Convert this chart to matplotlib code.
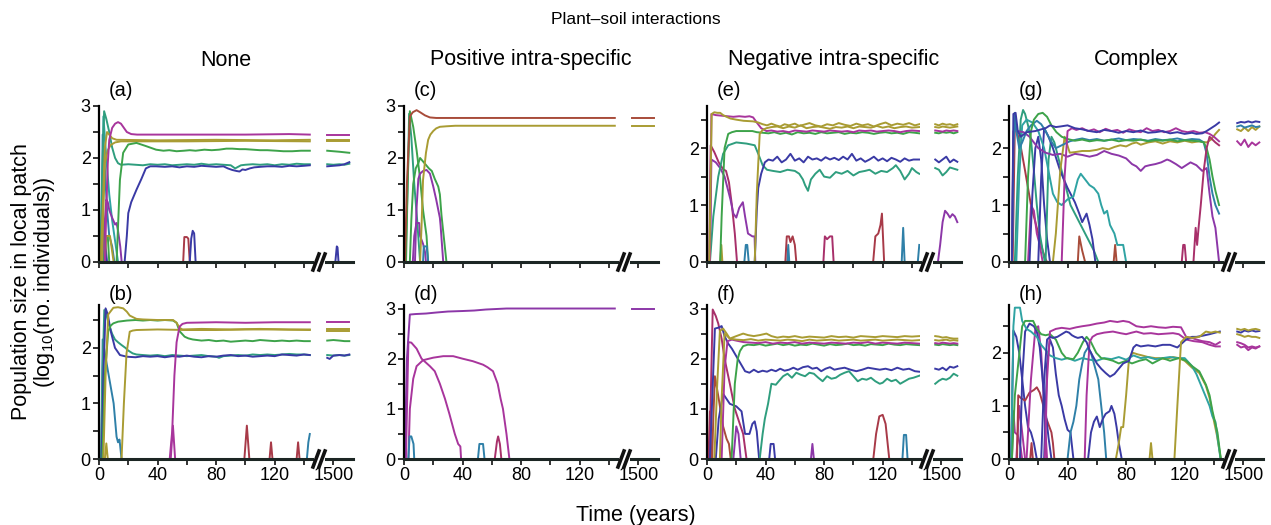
import matplotlib.pyplot as plt
from matplotlib.lines import Line2D
from matplotlib.ticker import MultipleLocator

plt.rcParams['font.family'] = ['Liberation Sans', 'DejaVu Sans']
plt.rcParams['mathtext.fontset'] = 'custom'
plt.rcParams['mathtext.rm'] = 'Liberation Sans'
plt.rcParams['mathtext.it'] = 'Liberation Sans:italic'

# colours
MAG = '#a8359c'
PUR = '#8c37a8'
CRM = '#a8306a'
RED = '#a83a48'
BRN = '#a84c3a'
OLI = '#a99c33'
GRN = '#3da34a'
TGR = '#2f9e7e'
TEA = '#2fa3a3'
STB = '#2f80a8'
NAV = '#3a3aa5'

# ---- (a) none ----
a_mag = [(0,0),(4,0),(5,1.0),(6,1.9),(7,2.35),(9,2.58),(11,2.66),(13,2.69),(15,2.66),(17,2.58),(19,2.5),(22,2.46),(26,2.45),(60,2.45),(100,2.45),(130,2.46),(144,2.45)]
a_mag_r = [(1475,2.45),(1565,2.45)]
a_pur = [(2,0),(3.5,0.6),(5,1.2),(6,1.15),(7,1.0),(9,0.85),(11,0.72),(12,0.75),(13,0.6),(14.5,0.3),(15.5,0)]
a_oli1 = [(1,0),(2.5,1.0),(4,2.2),(5.5,2.5),(7,2.45),(9,2.38),(12,2.35),(40,2.34),(80,2.35),(120,2.34),(144,2.35)]
a_oli1_r = [(1475,2.35),(1565,2.35)]
a_oli2 = [(2,0),(3,1.0),(4,1.9),(6,2.15),(8,2.25),(11,2.3),(15,2.32),(60,2.32),(100,2.33),(144,2.32)]
a_oli2_r = [(1475,2.32),(1565,2.32)]
a_oli3 = [(4,0),(5,0.5),(7.5,0.5),(9,0.2),(10,0)]
a_grn = [(12,0),(14.3,1.58),(16.5,2.1),(20,2.26),(25.6,2.29),(32,2.23),(39,2.16),(44,2.14),(48,2.15),(53,2.13),(58,2.14),(62,2.15),(66,2.14),(72,2.16),(77,2.15),(82,2.16),(87,2.18),(91,2.18),(96,2.17),(100,2.17),(105,2.16),(110,2.15),(115,2.15),(121,2.14),(126,2.13),(132,2.13),(138,2.14),(144,2.14)]
a_grn_r = [(1475,2.14),(1500,2.13),(1525,2.12),(1545,2.11),(1565,2.1)]
a_tgr = [(1,0),(2,1.5),(3.5,2.9),(5,2.75),(7,2.5),(9,2.2),(11,2.0),(13,1.9),(15,1.87),(20,1.88),(25,1.87),(30,1.86),(35,1.88),(40,1.87),(45,1.88),(50,1.86),(55,1.87),(60,1.88),(65,1.87),(70,1.89),(75,1.87),(80,1.88),(85,1.87),(90,1.86),(93,1.8),(95,1.83),(97,1.86),(100,1.87),(105,1.88),(110,1.87),(115,1.88),(120,1.86),(125,1.88),(130,1.87),(135,1.89),(140,1.88),(144,1.88)]
a_tgr_r = [(1475,1.88),(1500,1.87),(1525,1.88),(1545,1.87),(1565,1.89)]
a_nav = [(17.5,0),(19,0.5),(20,0.94),(22,1.15),(25.6,1.39),(29,1.6),(32,1.8),(35,1.84),(39,1.84),(45,1.83),(50,1.84),(55,1.82),(60,1.84),(65,1.83),(70,1.85),(75,1.84),(80,1.83),(85,1.84),(88,1.8),(91,1.77),(94,1.75),(96,1.74),(98,1.78),(100,1.77),(103,1.8),(106,1.82),(110,1.83),(115,1.84),(120,1.84),(125,1.83),(130,1.85),(135,1.84),(140,1.85),(144,1.86)]
a_nav_r = [(1475,1.84),(1500,1.85),(1525,1.86),(1545,1.88),(1565,1.92)]
a_nav0 = [(1,0),(2,1.0),(3,0.7),(4.5,0.3),(5.5,0)]
a_nav1 = [(62,0),(63,0.45),(64,0.6),(65,0.55),(66,0)]
a_nav2_r = [(1508,0),(1514,0.3),(1517,0.28),(1521,0)]
a_red = [(57.5,0),(58.3,0.48),(60,0.48),(61,0.45),(62,0)]
a_stb = [(1.5,0),(2.5,2.45),(4,1.8),(5.5,1.0),(7,0.5),(9,0.3),(10.5,0)]
a_tea = [(2,0),(3,2.8),(5,2.0),(7,1.3),(9,0.8),(11,0.4),(13,0)]
a_grn0 = [(3,0),(4,0.5),(6,0.5),(7,0)]

# ---- (b) none ----
b_nav = [(1.8,0),(3,1.5),(4.5,2.71),(6,2.6),(8,2.3),(10.9,2.0),(14.3,1.87),(19,1.84),(25,1.83),(30,1.85),(35,1.84),(40,1.85),(45,1.83),(50,1.85),(55,1.84),(60,1.86),(65,1.84),(70,1.83),(75,1.85),(80,1.84),(85,1.86),(90,1.87),(95,1.85),(100,1.86),(105,1.84),(110,1.85),(115,1.86),(120,1.85),(125,1.88),(130,1.87),(135,1.86),(140,1.88),(144,1.87)]
b_nav_r = [(1475,1.82),(1485,1.8),(1500,1.86),(1525,1.87),(1545,1.86),(1565,1.88)]
b_tgr = [(1.4,0),(2.5,1.6),(3.6,2.68),(5,2.6),(7,2.4),(9,2.25),(10.9,2.15),(13,2.1),(15.4,2.05),(18,2.0),(20,1.95),(23,1.9),(25.6,1.88),(30,1.87),(35,1.86),(40,1.87),(45,1.85),(50,1.87),(55,1.86),(60,1.85),(65,1.86),(70,1.87),(75,1.85),(80,1.84),(82,1.82),(85,1.85),(90,1.86),(95,1.87),(100,1.86),(105,1.88),(110,1.87),(115,1.88),(120,1.87),(125,1.88),(130,1.89),(135,1.88),(140,1.88),(144,1.87)]
b_tgr_r = [(1475,1.87),(1500,1.86),(1525,1.87),(1545,1.86),(1565,1.87)]
b_grn = [(2.3,0),(4,1.5),(6.3,2.3),(8,2.4),(9.8,2.44),(13,2.47),(19,2.49),(25,2.5),(30,2.49),(35,2.5),(40,2.49),(45,2.5),(50.6,2.49),(53,2.45),(55,2.3),(58.5,2.2),(61,2.17),(64,2.15),(70,2.13),(75,2.14),(80,2.12),(85,2.13),(90,2.11),(95,2.12),(100,2.13),(105,2.12),(110,2.14),(115,2.13),(120,2.12),(125,2.13),(130,2.12),(135,2.13),(140,2.12),(144,2.12)]
b_grn_r = [(1475,2.13),(1500,2.14),(1525,2.13),(1545,2.12),(1565,2.12)]
b_oli1 = [(3,0),(4.5,1.5),(6.3,2.6),(9.8,2.72),(13,2.73),(16.5,2.71),(19,2.65),(21,2.58),(25.6,2.52),(30,2.51),(40,2.5),(50.6,2.5),(53,2.45),(55,2.36),(57,2.33),(70,2.34),(90,2.33),(110,2.34),(130,2.33),(144,2.33)]
b_oli1_r = [(1475,2.33),(1565,2.33)]
b_oli2 = [(15.4,0),(17,1.0),(18.8,1.9),(21,2.29),(23,2.31),(25.6,2.32),(40,2.33),(60,2.32),(80,2.32),(100,2.33),(120,2.33),(144,2.32)]
b_oli2_r = [(1475,2.31),(1565,2.31)]
b_oli3 = [(4,0),(5,0.28),(6,0)]
b_mag = [(48.3,0),(50,0.5),(51.5,1.5),(53,2.1),(55,2.38),(57,2.43),(60,2.45),(80,2.46),(100,2.45),(120,2.46),(144,2.46)]
b_mag_r = [(1475,2.46),(1565,2.46)]
b_mag0 = [(49,0),(50.5,0.6),(52,0)]
b_stb = [(1.5,0),(2.5,2.15),(4,1.9),(6,1.6),(8,1.3),(10,1.0),(12,0.4),(13,0.3),(14,0.35),(15.4,0)]
b_stb2 = [(142,0),(143,0.3),(144,0.45)]
b_red1 = [(99.3,0),(101,0.6),(102.7,0)]
b_red2 = [(116.5,0),(117.5,0.3),(118.5,0)]
b_red3 = [(135,0),(136,0.3),(137,0)]

# ---- (c) positive ----
c_red = [(0.7,0),(2,1.5),(4,2.8),(6,2.88),(8.6,2.92),(11,2.88),(14.3,2.82),(17.7,2.78),(22,2.77),(144,2.77)]
c_red_r = [(1475,2.77),(1565,2.77)]
c_oli = [(11,0),(12,0.7),(13,1.58),(15,2.1),(16.5,2.35),(18,2.45),(20,2.52),(22,2.57),(24.5,2.6),(29,2.61),(35,2.62),(144,2.62)]
c_oli_r = [(1475,2.62),(1565,2.62)]
c_grn1 = [(1.4,0),(2.5,1.5),(4,2.9),(6.3,2.6),(8.6,2.15),(11,1.6),(13,1.0),(15.4,0.5),(16.5,0)]
c_grn2 = [(4,0),(5,0.8),(6.3,1.5),(8,1.8),(9.8,1.9),(11,2.0),(14,1.9),(17,1.8),(19,1.75),(21,1.6),(23.4,1.45),(24.5,1.3),(25.6,0.9),(29,0)]
c_pur = [(7.5,0),(8.5,1.0),(9.8,1.6),(11,1.7),(13,1.75),(15.4,1.77),(17.7,1.7),(20,1.45),(22,1.2),(24.5,0.85),(25,0.7),(26.8,0)]
c_pur2 = [(6,0),(7,0.5),(8.5,0.75),(10.4,0.75),(11,0.5),(13,0.35),(14.3,0.2),(15,0)]
c_tea = [(13,0),(13.5,0.3),(15.5,0.3),(16.5,0)]
c_tgr = [(1,0),(2.5,1.5),(3.5,2.85),(5,2.4),(7,1.5),(9,0.8),(11,0)]

# ---- (d) positive ----
d_pur1 = [(0.5,0),(2,2.0),(4,2.88),(8,2.89),(15,2.9),(22,2.92),(30,2.94),(40,2.95),(48,2.96),(56,2.98),(63,2.99),(70,3.0),(144,3.0)]
d_pur1_r = [(1475,3.0),(1565,3.0)]
d_pur2 = [(1.3,0),(3,2.33),(5,2.32),(8.6,2.2),(12,2.0),(17.7,1.85),(21,1.75),(24.5,1.5),(28,1.2),(31,0.9),(34.7,0.5),(37,0.3),(38.5,0.25),(39,0)]
d_pur3 = [(3,0),(4,1.0),(6.3,1.6),(8.6,1.85),(13,1.97),(20,2.02),(26.8,2.05),(33.6,2.05),(40,2.0),(47,1.95),(54,1.88),(57,1.83),(60.8,1.75),(64,1.5),(66,1.2),(67.6,1.0),(70,0.5),(72,0)]
d_stb1 = [(3,0),(3.8,0.45),(5,0.45),(6.5,0.3),(7,0)]
d_stb2 = [(50.5,0),(51.5,0.3),(54,0.3),(55,0)]
d_mag = [(62,0),(63.5,0.35),(64.3,0.45),(65.5,0.3),(66.5,0)]

# ---- (e) negative ----
e_oli1 = [(1.6,0),(3.2,2.6),(5,2.63),(7,2.62),(9,2.62),(11,2.58),(13.4,2.55),(16,2.52),(20,2.5),(25,2.48),(31.5,2.47),(35,2.45),(38,2.42),(41,2.4),(44,2.43),(47,2.4),(50,2.38),(53,2.42),(56,2.4),(60,2.43),(63,2.39),(66,2.41),(70,2.44),(74,2.4),(78,2.38),(82,2.42),(86,2.4),(90,2.44),(94,2.41),(98,2.39),(102,2.43),(106,2.4),(110,2.42),(114,2.38),(118,2.42),(122,2.45),(126,2.4),(130,2.43),(134,2.41),(138,2.44),(142,2.4),(145,2.42)]
e_oli1_r = [(1475,2.42),(1490,2.4),(1505,2.43),(1520,2.41),(1535,2.42),(1550,2.4),(1565,2.42)]
e_oli2 = [(32.6,0),(34,1.2),(36,2.25),(38,2.32),(40.6,2.35),(44,2.37),(48,2.38),(52,2.35),(56,2.38),(60,2.36),(64,2.4),(68,2.35),(72,2.37),(76,2.38),(80,2.36),(84,2.34),(88,2.37),(92,2.36),(96,2.38),(100,2.35),(104,2.38),(108,2.37),(112,2.36),(116,2.39),(120,2.36),(124,2.38),(128,2.35),(132,2.37),(136,2.38),(140,2.36),(145,2.37)]
e_oli2_r = [(1475,2.37),(1490,2.36),(1505,2.38),(1520,2.37),(1535,2.36),(1550,2.37),(1565,2.38)]
e_mag = [(2,0),(3,2.6),(6,2.58),(10,2.57),(14,2.56),(18,2.55),(22,2.56),(26,2.55),(29,2.56),(31.5,2.54),(34,2.45),(37,2.35),(40.6,2.3),(44,2.31),(48,2.29),(52,2.3),(56,2.28),(60,2.31),(64,2.3),(68,2.29),(72,2.31),(76,2.3),(80,2.29),(84,2.31),(88,2.3),(92,2.29),(96,2.3),(100,2.28),(104,2.31),(108,2.3),(112,2.31),(116,2.29),(120,2.3),(124,2.31),(128,2.3),(132,2.28),(136,2.3),(140,2.31),(145,2.3)]
e_mag_r = [(1475,2.31),(1490,2.3),(1505,2.29),(1520,2.31),(1535,2.3),(1550,2.31),(1565,2.3)]
e_mag2 = [(1.5,0),(2.5,2.05),(5,1.93),(8,1.75),(11,1.63),(13,1.6),(15,1.4),(17,1.0),(19,0.5),(20.5,0)]
e_pur = [(2,0),(3,1.8),(6,1.75),(9,1.65),(12,1.5),(14,1.3),(16,1.1),(18,0.85),(20,0.78),(22,0.95),(24.5,1.05),(26,0.8),(28,0.5),(31,0.45),(32.5,0.45),(33,0)]
e_pur_r = [(1486,0),(1495,0.3),(1505,0.7),(1515,0.9),(1525,0.85),(1535,0.78),(1545,0.84),(1555,0.8),(1565,0.7)]
e_grn = [(9,0),(10,0.8),(12,2.0),(14.5,2.25),(17,2.28),(20,2.3),(25,2.3),(31,2.3),(34,2.28),(38,2.27),(42,2.26),(46,2.28),(50,2.25),(54,2.27),(58,2.24),(62,2.28),(66,2.26),(70,2.27),(74,2.25),(78,2.28),(82,2.26),(86,2.27),(90,2.28),(94,2.25),(98,2.27),(102,2.26),(106,2.28),(110,2.27),(114,2.25),(118,2.27),(122,2.28),(126,2.26),(130,2.27),(134,2.25),(138,2.28),(142,2.27),(145,2.26)]
e_grn_r = [(1475,2.27),(1490,2.26),(1505,2.28),(1520,2.27),(1535,2.28),(1550,2.26),(1565,2.28)]
e_tgr = [(2,0),(4.3,0.8),(7.7,1.5),(11,1.9),(14.5,2.05),(20,2.1),(27,2.08),(32.6,2.05),(35,1.9),(38,1.7),(41,1.62),(45,1.6),(50,1.58),(55,1.62),(60,1.6),(63,1.55),(65.5,1.45),(67,1.35),(69,1.25),(71,1.45),(74,1.55),(77,1.62),(80,1.5),(84,1.48),(88,1.58),(92,1.55),(96,1.6),(100,1.52),(104,1.58),(108,1.6),(111,1.62),(115,1.55),(119,1.6),(123,1.58),(127,1.65),(129,1.7),(132,1.6),(135,1.45),(138,1.55),(140,1.65),(143,1.58),(145,1.55)]
e_tgr_r = [(1475,1.65),(1490,1.62),(1505,1.52),(1520,1.58),(1535,1.66),(1550,1.64),(1565,1.62)]
e_nav = [(32.6,0),(34,0.9),(35,1.3),(37,1.55),(39.5,1.75),(42,1.8),(45,1.78),(48,1.85),(51,1.75),(54,1.8),(57,1.9),(60,1.78),(63,1.82),(66,1.75),(69,1.85),(72,1.8),(75,1.82),(78,1.78),(81,1.84),(84,1.8),(87,1.83),(90,1.79),(93,1.85),(96,1.8),(99,1.9),(102,1.78),(105,1.82),(108,1.76),(111,1.8),(114,1.85),(117,1.78),(120,1.82),(123,1.77),(126,1.83),(129,1.8),(132,1.76),(135,1.82),(138,1.78),(141,1.8),(145,1.8)]
e_nav_r = [(1475,1.8),(1490,1.75),(1505,1.8),(1520,1.85),(1535,1.75),(1550,1.8),(1565,1.76)]
e_stb1 = [(25.5,0),(26.5,0.3),(27.5,0.3),(28.5,0)]
e_stb2 = [(54.8,0),(55.5,0.3),(56.2,0)]
e_stb3 = [(133,0),(134,0.6),(135,0)]
e_stb4 = [(144,0),(145,0.3)]
e_red1 = [(53.5,0),(54.5,0.45),(56,0.45),(57,0.35),(58.5,0.45),(60,0.3),(61,0)]
e_red2 = [(79.5,0),(80.5,0.45),(82,0.4),(84,0.45),(85.5,0.45),(86.5,0)]
e_red3 = [(113.5,0),(115,0.45),(117,0.5),(118.5,0.65),(119.5,0.85),(121,0)]
e_oli3 = [(9,0),(9.8,0.3),(10.5,0)]

# ---- (f) negative ----
f_crm = [(1.6,0),(3.9,2.98),(6,2.85),(7.7,2.7),(10,2.4),(12,2.0),(15.6,1.5),(19,1.0),(22.4,0.7),(24.7,0.5),(27,0)]
f_nav = [(2,0),(5.4,2.6),(8,2.62),(10,2.65),(12,2.45),(14.5,2.3),(17,2.2),(19,2.1),(21,2.0),(23,1.9),(26,1.75),(29,1.72),(32,1.78),(35,1.73),(38,1.76),(41,1.74),(44,1.78),(47,1.75),(50,1.8),(53,1.76),(56,1.78),(59,1.82),(62,1.78),(65.5,1.83),(69,1.85),(72,1.8),(75,1.82),(78,1.75),(81,1.8),(84,1.83),(87,1.78),(90,1.8),(94,1.82),(98,1.78),(102,1.75),(106,1.78),(110,1.82),(114,1.8),(118,1.78),(122,1.8),(126,1.77),(130,1.82),(134,1.78),(138,1.8),(142,1.75),(145,1.74)]
f_nav_r = [(1475,1.8),(1490,1.78),(1505,1.82),(1520,1.77),(1535,1.84),(1550,1.82),(1565,1.85)]
f_nav2 = [(6,0),(8,0.8),(11,1.3),(15.6,1.1),(20,1.05),(23.6,0.95),(26,0.5),(29,0.5),(31,0.7),(32.6,0.75),(34,0.55),(35.6,0)]
f_nav3 = [(42.5,0),(43.5,0.3),(45.5,0.3),(46.5,0)]
f_oli1 = [(5,0),(7,1.5),(8.8,2.55),(11,2.6),(13.4,2.5),(15.6,2.4),(20,2.45),(24.7,2.5),(28,2.47),(32,2.45),(36,2.47),(40.6,2.5),(44,2.45),(48,2.42),(52,2.44),(56,2.43),(60,2.45),(65,2.42),(70,2.44),(75,2.43),(80,2.42),(85,2.45),(90,2.43),(95,2.44),(100,2.42),(105,2.45),(110,2.44),(115,2.43),(120,2.45),(125,2.44),(130,2.43),(135,2.45),(140,2.44),(145,2.45)]
f_oli1_r = [(1475,2.45),(1490,2.44),(1505,2.42),(1520,2.43),(1535,2.41),(1550,2.4),(1565,2.4)]
f_oli2 = [(8.8,0),(10,1.2),(12,2.5),(15.6,2.4),(20,2.38),(25,2.37),(30,2.39),(35,2.36),(40,2.38),(45,2.37),(50,2.36),(55,2.38),(60,2.37),(65,2.35),(70,2.38),(75,2.36),(80,2.37),(85,2.38),(90,2.36),(95,2.37),(100,2.38),(105,2.36),(110,2.37),(115,2.38),(120,2.36),(125,2.37),(130,2.38),(135,2.37),(140,2.36),(145,2.37)]
f_oli2_r = [(1475,2.37),(1490,2.36),(1505,2.37),(1520,2.38),(1535,2.36),(1550,2.37),(1565,2.36)]
f_mag = [(10,0),(12,1.8),(14,2.35),(17,2.38),(20,2.36),(25,2.33),(30,2.32),(35,2.31),(40,2.33),(45,2.3),(50,2.32),(55,2.31),(60,2.33),(65,2.3),(70,2.32),(75,2.31),(80,2.3),(85,2.32),(90,2.31),(95,2.3),(100,2.32),(105,2.31),(110,2.33),(115,2.3),(120,2.32),(125,2.31),(130,2.3),(135,2.32),(140,2.31),(145,2.3)]
f_mag_r = [(1475,2.31),(1490,2.3),(1505,2.32),(1520,2.31),(1535,2.3),(1550,2.31),(1565,2.3)]
f_grn = [(16.8,0),(19,1.5),(21,2.0),(22.5,2.15),(24.7,2.25),(28,2.28),(32,2.27),(36,2.29),(40,2.26),(44,2.28),(48,2.3),(52,2.27),(56,2.29),(60,2.26),(64,2.28),(68,2.27),(72,2.3),(76,2.28),(80,2.26),(84,2.29),(88,2.27),(92,2.28),(96,2.3),(100,2.27),(104,2.28),(108,2.26),(112,2.29),(116,2.28),(120,2.27),(124,2.3),(128,2.28),(132,2.27),(136,2.29),(140,2.28),(145,2.27)]
f_grn_r = [(1475,2.28),(1490,2.27),(1505,2.29),(1520,2.28),(1535,2.27),(1550,2.28),(1565,2.27)]
f_tgr = [(36,0),(38,0.5),(39.5,0.8),(41.7,1.1),(44,1.5),(47,1.48),(49,1.55),(52,1.65),(55,1.7),(58,1.62),(61,1.72),(64,1.68),(67,1.65),(70,1.72),(73,1.7),(76,1.62),(79,1.55),(82,1.65),(85,1.6),(88,1.62),(91,1.68),(94,1.72),(97,1.75),(100,1.65),(103,1.55),(106,1.6),(109,1.58),(112,1.62),(115,1.55),(118,1.5),(120,1.52),(123,1.6),(126,1.55),(129,1.58),(132,1.5),(135,1.55),(138,1.6),(141,1.62),(145,1.66)]
f_tgr_r = [(1475,1.5),(1490,1.56),(1505,1.6),(1520,1.58),(1535,1.62),(1550,1.7),(1565,1.66)]
f_brn = [(3.5,0),(4.3,0.8),(5.4,1.65),(8,1.2),(11,0.65),(13.4,0.4),(15,0.3),(16.2,0)]
f_red0 = [(1,0),(2,0.95),(3,0)]
f_pur = [(71,0),(72,0.3),(73,0)]
f_pur2 = [(18,0),(20,0.65),(21.5,0.5),(23,0)]
f_red = [(113.6,0),(115.5,0.5),(117.7,0.85),(120,0.88),(122,0.7),(124.5,0)]
f_stb = [(133.5,0),(134.5,0.48),(136,0.48),(137,0)]

# ---- (g) complex ----
g_nav1 = [(2,0),(3,2.6),(4.5,2.62),(6,2.3),(8,2.2),(12,2.28),(18,2.3),(22,2.33),(25,2.35),(28,2.4),(32,2.37),(35,2.38),(40,2.4),(45,2.35),(50,2.33),(55,2.3),(60,2.28),(65,2.32),(70,2.3),(75,2.27),(80,2.3),(85,2.28),(90,2.31),(95,2.27),(100,2.28),(105,2.3),(110,2.26),(115,2.28),(120,2.25),(125,2.27),(128,2.25),(132,2.26),(135,2.3),(138,2.35),(141,2.4),(143.5,2.45)]
g_nav1_r = [(1475,2.44),(1490,2.46),(1505,2.45),(1520,2.47),(1535,2.45),(1550,2.47),(1565,2.46)]
g_mag = [(36,0),(38,1.5),(40,2.3),(43,2.35),(46,2.32),(50,2.35),(54,2.3),(58,2.33),(62,2.28),(66,2.34),(70,2.3),(74,2.32),(78,2.27),(82,2.33),(86,2.3),(90,2.28),(94,2.35),(98,2.3),(102,2.32),(106,2.28),(110,2.3),(114,2.35),(118,2.3),(122,2.28),(126,2.3),(130,2.27),(134,2.28),(137,2.25),(140,2.2),(143.5,2.12)]
g_mag_r = [(1475,2.12),(1490,2.05),(1505,2.15),(1520,2.02),(1535,2.1),(1550,2.05),(1565,2.1)]
g_oli = [(30,0),(32,0.5),(35,1.6),(38,2.2),(41.5,1.92),(45,1.93),(50,1.95),(55,1.95),(60,1.97),(64,2.0),(68,1.98),(72,2.02),(76,2.05),(80,2.03),(84,2.08),(87,2.1),(90,2.06),(95,2.1),(100,2.12),(105,2.08),(110,2.12),(115,2.1),(120,2.13),(125,2.1),(130,2.12),(135,2.1),(138,2.15),(141,2.25),(143.5,2.32)]
g_oli_r = [(1475,2.33),(1490,2.3),(1505,2.36),(1520,2.3),(1535,2.37),(1550,2.32),(1565,2.38)]
g_grn = [(11,0),(13,1.5),(15,2.3),(17,2.5),(20,2.6),(23,2.62),(26,2.55),(29,2.4),(32.4,2.28),(36,2.2),(40,2.16),(45,2.13),(50,2.15),(55,2.12),(60,2.14),(65,2.13),(70,2.15),(75,2.12),(80,2.14),(85,2.13),(90,2.15),(95,2.12),(100,2.14),(105,2.13),(110,2.15),(115,2.12),(120,2.14),(125,2.13),(130,2.12),(133,2.1),(135,2.0),(137,1.8),(139,1.5),(141,1.25),(143.5,1.0)]
g_tgr = [(4,0),(6,1.5),(8,2.5),(9.6,2.67),(11,2.6),(13,2.4),(15,2.15),(17,1.6),(19,1.0),(21,0.5),(23,0.2),(24.5,0)]
g_tgr2 = [(25,0),(27,1.8),(29,2.2),(31,2.1),(34,1.8),(38,1.4),(42,1.0),(46,0.8),(50,0.6),(54,0.4),(58,0.2),(61,0)]
g_stb = [(2,0),(3,2.0),(4,2.62),(5,2.3),(7,2.0),(9,2.1),(12,2.3),(15,2.4),(19,2.48),(22,2.42),(25,2.3),(28,2.15),(32,2.0),(36,2.05),(41.5,2.12),(46,2.15),(50,2.17),(55,2.14),(60,2.16),(65,2.13),(70,2.15),(75,2.17),(80,2.14),(85,2.16),(90,2.15),(95,2.13),(100,2.16),(105,2.14),(110,2.15),(115,2.17),(120,2.14),(125,2.16),(130,2.15),(133,2.1),(135,1.9),(137,1.5),(139,1.2),(141,1.0),(143.5,0.85)]
g_stb_r = [(1475,2.38),(1490,2.4),(1505,2.36),(1520,2.38),(1535,2.4),(1550,2.37),(1565,2.38)]
g_pur = [(2,0),(3,2.3),(6,2.3),(10,2.28),(14,2.2),(17,2.1),(20,2.0),(25,1.92),(30,1.88),(35,1.9),(40,1.85),(45,1.9),(50,1.88),(55,1.85),(60,1.88),(65,1.95),(70,1.9),(75,1.87),(80,1.82),(84,1.72),(87,1.68),(90,1.6),(93,1.68),(96,1.7),(100,1.72),(104,1.75),(108,1.8),(110,1.78),(114,1.72),(118,1.65),(121,1.7),(124,1.75),(128,1.7),(132,1.6),(135,1.65),(137,1.2),(139,0.8),(141,0.6),(143.5,0)]
g_red = [(2.5,0),(4,2.4),(7.5,2.1),(11,1.6),(15,1.0),(19,0.6),(23,0.2),(25,0.05),(26,0)]
g_red2 = [(47,0),(48,0.45),(50,0.2),(52,0)]
g_red3 = [(71.5,0),(72.5,0.3),(73.5,0)]
g_nav2 = [(20,0),(22,1.5),(24,2.35),(27,2.2),(30,2.0),(35,1.6),(40,1.3),(45,1.05),(48,0.85),(50,0.7),(53,0.85),(55,0.65),(57,0.4),(59,0)]
g_nav3 = [(14,0),(16,1.2),(18,2.0),(20,2.2),(22,1.8),(24,1.0),(26,0.4),(28,0)]
g_tea = [(5,0),(7,1.5),(9,2.4),(12,2.5),(16,2.45),(20,2.3),(24,2.0),(27,1.6),(30,1.2),(33,1.05),(36,1.0),(40,1.1),(44,1.15),(47,1.45),(49,1.55),(52,1.45),(55,1.35),(58,1.3),(61,1.2),(63,1.0),(65,0.85),(67,0.9),(69,0.65),(72,0.5),(74,0.3),(78,0.3),(80,0)]
g_crm = [(118,0),(119,0.3),(120,0.3),(121,0),(126,0),(127.5,0.6),(128.5,0.3),(129.5,0.6),(131,1.0),(133,1.6),(135,2.0),(137,2.2),(139,2.15),(141,2.1),(143.5,2.05)]
g_mag3 = [(13,0),(15,1.0),(17,0.9),(19,0.5),(21,0.3),(23,0)]

# ---- (h) complex ----
h_tea = [(1.5,0),(3,2.5),(4,2.85),(7.5,2.85),(9,2.6),(12,2.45),(15,2.4),(19,2.3),(22,2.15),(25,2.05),(28,1.95),(32,1.9),(36,1.87),(40,1.9),(45,1.85),(50,1.9),(55,1.87),(60,1.85),(65,1.9),(70,1.88),(75,1.92),(80,1.87),(85,1.95),(90,1.9),(95,1.92),(100,1.88),(105,1.9),(110,1.92),(115,1.9),(120,1.9),(125,1.75),(128,1.6),(131,1.4),(134,1.2),(137,1.0),(139,0.8),(141,0.7),(143,0.3),(144.5,0)]
h_grn = [(2,0),(4,1.2),(7.5,2.1),(9,2.5),(11,2.6),(14,2.6),(16.5,2.6),(19,2.45),(22,2.35),(25,2.33),(28,2.35),(32,2.25),(36,2.0),(39,1.9),(44,1.88),(47,2.0),(50.5,2.2),(53,2.3),(56,2.2),(59.6,2.0),(63,1.9),(67,1.88),(71,1.85),(75,1.8),(80,1.85),(84,1.8),(89,1.85),(93.6,1.88),(98,1.8),(105,1.9),(110,1.85),(116,1.9),(121,1.85),(125,1.75),(130,1.65),(134.5,1.4),(137,1.2),(139,0.9),(142.4,0.5),(144.7,0)]
h_nav1 = [(1.5,0),(3,2.42),(5,2.3),(7,2.0),(9,1.5),(11,1.0),(13,0.6),(15,0.5),(17,0.3),(19,0)]
h_nav2 = [(7.5,0),(9,1.5),(11,2.4),(14,2.55),(17,2.5),(19,2.4),(21,2.1),(23,1.5),(25,0.9),(27,0.4),(29,0)]
h_nav3 = [(22,0),(24,1.5),(26,2.25),(28,2.3),(30,2.28),(33,2.3),(36,2.35),(39,2.4),(41,2.38),(43,2.33),(45,2.3),(47,2.28),(50,2.3),(53,2.2),(55,2.05),(57,1.95),(60,1.8),(63,1.7),(66,1.62),(69,1.55),(72,1.6),(75,1.7),(78,1.8),(82,1.85),(85,2.1),(87,2.15),(90,2.12),(95,2.14),(100,2.12),(105,2.15),(110,2.15),(115,2.1),(121,2.25),(125,2.3),(128,2.3),(132,2.32),(137,2.35),(141,2.38),(144,2.4)]
h_nav3_r = [(1475,2.4),(1490,2.38),(1505,2.42),(1520,2.4),(1535,2.42),(1550,2.4),(1565,2.41)]
h_nav4 = [(24,0),(26,1.8),(28,2.25),(30,2.1),(32,1.6),(34,1.2),(36,1.0),(38,0.75),(40,0.55),(42,0.5),(44,0)]
h_nav5 = [(54,0),(56,0.5),(58,0.7),(60,0.8),(62,0.6),(64,0.75),(66,0.85),(68.7,0.9),(70,1.0),(72,0.85),(73.5,0.6),(75,0.3),(77,0)]
h_mag1 = [(24.5,0),(26,1.5),(28,2.4),(32,2.45),(36,2.47),(41.5,2.45),(46,2.48),(50,2.5),(55,2.52),(60,2.55),(65,2.57),(69,2.6),(74,2.58),(78,2.6),(82,2.58),(87,2.5),(92,2.48),(97,2.5),(102,2.48),(107,2.47),(112,2.49),(117.5,2.48),(121,2.3),(125,2.28),(128,2.25),(132,2.22),(137,2.2),(141,2.15),(144,2.2)]
h_mag1_r = [(1475,2.15),(1490,2.1),(1505,2.12),(1520,2.05),(1535,2.1),(1550,2.08),(1565,2.12)]
h_mag2 = [(51.7,0),(53,1.2),(55,2.2),(57,2.3),(60,2.35),(65,2.38),(71,2.4),(76,2.37),(80,2.35),(84,2.38),(87,2.4),(92,2.36),(97,2.37),(102,2.35),(107,2.36),(112,2.37),(116,2.35),(121,2.25),(126,2.22),(132,2.2),(137,2.15),(141,2.12),(144,2.12)]
h_mag2_r = [(1475,2.2),(1490,2.18),(1505,2.15),(1520,2.1),(1535,2.12),(1550,2.1),(1565,2.12)]
h_mag0 = [(12,0),(15,1.5),(18,2.45),(20,2.5),(22,2.0),(24,1.0),(26,0)]
h_mag3 = [(2,0),(3,0.9),(4,0.5),(6,0.45),(8,0.2),(9,0)]
h_mag4 = [(5,0),(7,1.0),(9,0.5),(11,0)]
h_red = [(5.5,0),(6.3,1.2),(8,1.15),(11,1.1),(14,1.25),(17,1.3),(19,1.35),(21,1.25),(23,1.05),(25,0.8),(27,0.65),(29,0.5),(30,0.3),(31,0)]
h_red2 = [(14.5,0),(15.4,0.3),(16.3,0)]
h_stb = [(40,0),(42,0.5),(44,0.7),(46,1.0),(48,1.5),(50,1.8),(51.7,2.0),(54,2.1),(56,2.0),(58,1.8),(61,1.5),(63,1.0),(65,0.5),(66.4,0)]
h_oli1 = [(73,0),(75,0.3),(76.6,0.6),(78,0.6),(80,1.2),(82,1.9),(84.6,2.0),(88,1.97),(91,1.95),(95,1.92),(100,1.9),(103,1.9),(107,1.88),(112,1.92),(116,1.9),(120,1.85),(125,1.72),(130,1.62),(134.5,1.38),(137,1.15),(139,0.85),(142,0.45),(144.7,0)]
h_oli1_r = [(1475,2.35),(1490,2.33),(1505,2.3),(1520,2.32),(1535,2.3),(1550,2.3),(1565,2.28)]
h_oli2 = [(113,0),(115,1.0),(117.5,2.2),(121,2.3),(125,2.28),(130,2.3),(134.5,2.4),(138,2.38),(141,2.4),(144,2.38)]
h_oli2_r = [(1475,2.45),(1490,2.43),(1505,2.45),(1520,2.42),(1535,2.44),(1550,2.45),(1565,2.43)]
h_oli3 = [(96,0),(97,0.3),(98,0)]

# (label, column, row, y max, [(colour, main series, right series)])
panels = [
    ('(a)', 0, 0, 3.0, [(TEA, a_tea, None), (STB, a_stb, None), (NAV, a_nav0, None), (GRN, a_grn0, None),
                        (OLI, a_oli3, None), (PUR, a_pur, None), (TGR, a_tgr, a_tgr_r), (OLI, a_oli2, a_oli2_r),
                        (OLI, a_oli1, a_oli1_r), (MAG, a_mag, a_mag_r), (GRN, a_grn, a_grn_r), (NAV, a_nav, a_nav_r),
                        (RED, a_red, None), (NAV, a_nav1, a_nav2_r)]),
    ('(b)', 0, 1, 2.77, [(STB, b_stb, None), (OLI, b_oli3, None), (TGR, b_tgr, b_tgr_r), (NAV, b_nav, b_nav_r),
                         (GRN, b_grn, b_grn_r), (OLI, b_oli1, b_oli1_r), (OLI, b_oli2, b_oli2_r), (MAG, b_mag0, None),
                         (MAG, b_mag, b_mag_r), (RED, b_red1, None), (RED, b_red2, None), (RED, b_red3, None),
                         (STB, b_stb2, None)]),
    ('(c)', 1, 0, 3.0, [(TGR, c_tgr, None), (GRN, c_grn1, None), (GRN, c_grn2, None), (PUR, c_pur, None),
                        (PUR, c_pur2, None), (STB, c_tea, None), (OLI, c_oli, c_oli_r), (BRN, c_red, c_red_r)]),
    ('(d)', 1, 1, 3.07, [(MAG, d_pur2, None), (MAG, d_pur3, None), (PUR, d_pur1, d_pur1_r), (STB, d_stb1, None),
                         (STB, d_stb2, None), (CRM, d_mag, None)]),
    ('(e)', 2, 0, 2.74, [(OLI, e_oli3, None), (CRM, e_mag2, None), (PUR, e_pur, e_pur_r), (TGR, e_tgr, e_tgr_r),
                         (NAV, e_nav, e_nav_r), (GRN, e_grn, e_grn_r), (MAG, e_mag, e_mag_r), (OLI, e_oli2, e_oli2_r),
                         (OLI, e_oli1, e_oli1_r), (STB, e_stb1, None), (STB, e_stb2, None), (STB, e_stb3, None),
                         (STB, e_stb4, None), (RED, e_red1, None), (CRM, e_red2, None), (RED, e_red3, None)]),
    ('(f)', 2, 1, 3.07, [(RED, f_red0, None), (BRN, f_brn, None), (NAV, f_nav2, None), (PUR, f_pur2, None),
                         (CRM, f_crm, None), (NAV, f_nav, f_nav_r), (TGR, f_tgr, f_tgr_r), (GRN, f_grn, f_grn_r),
                         (MAG, f_mag, f_mag_r), (OLI, f_oli2, f_oli2_r), (OLI, f_oli1, f_oli1_r), (NAV, f_nav3, None),
                         (PUR, f_pur, None), (RED, f_red, None), (STB, f_stb, None)]),
    ('(g)', 3, 0, 2.74, [(RED, g_red, None), (MAG, g_mag3, None), (TGR, g_tgr, None), (NAV, g_nav3, None),
                         (TGR, g_tgr2, None), (NAV, g_nav2, None), (TEA, g_tea, None), (BRN, g_red2, None),
                         (BRN, g_red3, None), (PUR, g_pur, None), (OLI, g_oli, g_oli_r), (STB, g_stb, g_stb_r),
                         (GRN, g_grn, None), (CRM, g_crm, None), (MAG, g_mag, g_mag_r), (NAV, g_nav1, g_nav1_r)]),
    ('(h)', 3, 1, 2.9, [(MAG, h_mag3, None), (MAG, h_mag4, None), (NAV, h_nav1, None), (RED, h_red, None),
                        (RED, h_red2, None), (MAG, h_mag0, None), (NAV, h_nav2, None), (NAV, h_nav4, None),
                        (STB, h_stb, None), (NAV, h_nav5, None), (OLI, h_oli3, None), (OLI, h_oli1, h_oli1_r),
                        (TEA, h_tea, None), (GRN, h_grn, None), (MAG, h_mag1, h_mag1_r), (MAG, h_mag2, h_mag2_r),
                        (NAV, h_nav3, h_nav3_r), (OLI, h_oli2, h_oli2_r)]),
]

col_titles = ['None', 'Positive intra-specific', 'Negative intra-specific', 'Complex']

W, H = 1271, 525
fig = plt.figure(figsize=(W / 100, H / 100), dpi=100)

col_left = [99, 404, 707, 1009]   # pixel x of each panel's y axis
row_zero = [262, 459]             # pixel y of the zero line
row_h = [156, 154]
main_w, gap, right_w = 213, 14, 27
AXIS = '#1c2624'

for label, col, row, ymax, lines in panels:
    x0, y0 = col_left[col], row_zero[row]
    ax = fig.add_axes([x0 / W, 1 - y0 / H, main_w / W, row_h[row] / H])
    axr = fig.add_axes([(x0 + main_w + gap) / W, 1 - y0 / H, right_w / W, row_h[row] / H])
    for color, s, r in lines:
        t, y = zip(*s)
        ax.plot(t, y, color=color, lw=1.4, solid_joinstyle='round')
        if r is not None:
            rt, ry = zip(*r)
            axr.plot(rt, ry, color=color, lw=1.4, solid_joinstyle='round')

    ax.set_xlim(0, 145.5)
    ax.set_ylim(0, ymax)
    ax.spines[['top', 'right']].set_visible(False)
    ax.spines['left'].set_linewidth(1.6)
    ax.spines['bottom'].set_linewidth(2.2)
    ax.spines['bottom'].set_color(AXIS)
    ax.xaxis.set_major_locator(MultipleLocator(40))
    ax.xaxis.set_minor_locator(MultipleLocator(20))
    ax.yaxis.set_major_locator(MultipleLocator(1))
    ax.yaxis.set_minor_locator(MultipleLocator(0.5))
    ax.tick_params(which='both', direction='out', length=4, width=1.2, labelsize=13, pad=2, color='#111111')
    ax.set_facecolor('none')

    axr.set_xlim(1470, 1580)
    axr.set_ylim(0, ymax)
    axr.spines[['top', 'right', 'left']].set_visible(False)
    axr.spines['bottom'].set_linewidth(2.2)
    axr.spines['bottom'].set_color(AXIS)
    axr.set_yticks([])
    axr.set_xticks([1500])
    axr.tick_params(direction='out', length=4, width=1.2, labelsize=13, pad=2, color='#111111')
    axr.set_facecolor('none')

    if row == 0:
        ax.tick_params(labelbottom=False)
        axr.tick_params(labelbottom=False)

    # axis break marks
    for k in range(2):
        bx = x0 + main_w + 1 + 6 * k
        fig.add_artist(Line2D([bx / W, (bx + 6) / W], [1 - (y0 + 8) / H, 1 - (y0 - 8) / H],
                              color='#111111', lw=2.6, transform=fig.transFigure))

    ly = y0 - row_h[row] - (16 if row == 0 else 11)
    fig.text((x0 + 10) / W, 1 - ly / H, label, fontsize=14.5, ha='left', va='center')

for col, title in enumerate(col_titles):
    cx = col_left[col] + (main_w + gap + right_w) / 2
    fig.text(cx / W, 1 - 60 / H, title, fontsize=15.5, ha='center', va='center')

fig.text(0.5, 1 - 20 / H, 'Plant\u2013soil interactions', fontsize=12.5, ha='center', va='center')
fig.text(636 / W, 1 - 515 / H, 'Time (years)', fontsize=15.5, ha='center', va='center')
fig.text(34 / W, 1 - 282 / H, 'Population size in local patch\n(log$_{10}$(no. individuals))',
         fontsize=15.5, rotation=90, ha='center', va='center', multialignment='center', linespacing=1.0)

fig.savefig('out.png', dpi=100)
